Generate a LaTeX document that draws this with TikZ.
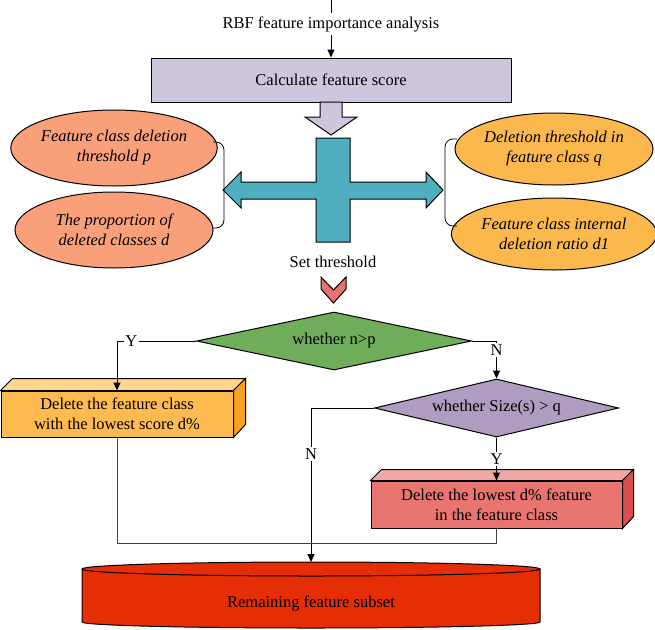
\documentclass[tikz,border=0pt]{standalone}
\usepackage{fontspec}
\setmainfont{Liberation Serif}
\usetikzlibrary{shapes.geometric,arrows.meta}
\definecolor{calcfill}{HTML}{CEC6DC}
\definecolor{crossfill}{HTML}{4FAEBF}
\definecolor{salmon}{HTML}{F9A07B}
\definecolor{gold}{HTML}{FBB84C}
\definecolor{chevfill}{HTML}{E8736E}
\definecolor{greenfill}{HTML}{70AD5B}
\definecolor{purplefill}{HTML}{AE9DC0}
\definecolor{orangefront}{HTML}{FDBA4F}
\definecolor{orangetop}{HTML}{FED68E}
\definecolor{orangeside}{HTML}{F9A21F}
\definecolor{pinkfront}{HTML}{E97571}
\definecolor{pinktop}{HTML}{F1A8A4}
\definecolor{pinkside}{HTML}{DA4F4C}
\definecolor{cylfill}{HTML}{E52E05}
\begin{document}
\begin{tikzpicture}[x=1pt,y=-1pt,line width=1pt,
    font=\fontsize{16.5}{20}\selectfont,
    >={Triangle[length=8pt,width=7pt]},
    oval/.style={ellipse,draw,inner sep=0pt,minimum width=198pt,minimum height=76pt,
      align=center,font=\fontsize{16.5}{20}\selectfont\itshape},
    decision/.style={diamond,draw,inner sep=0pt,align=center},
    box/.style={rectangle,draw,inner sep=0pt,align=center},
    lbl/.style={fill=white,inner sep=1.5pt}]
        \useasboundingbox (0,0) rectangle (655,629);
        \coordinate (input) at (331,0);
        \node (rbf) at (331,24) {RBF feature importance analysis};
        \node[box,fill=calcfill,minimum width=360pt,minimum height=44pt] (calc) at (331,80) {Calculate feature score};
        \draw (input) -- (rbf);
        \draw[->] (rbf) -- (calc);
        \draw[fill=calcfill] (320,102) -- (320,117) -- (305,117) -- (331,135) -- (357,117) -- (342,117) -- (342,102) -- cycle;
        \draw[fill=crossfill] (316,138) -- (350,138) -- (350,182) -- (426,182) -- (426,172) -- (443,190) -- (426,208) -- (426,199)
          -- (350,199) -- (350,242) -- (316,242) -- (316,199) -- (241,199) -- (241,208) -- (223,190) -- (241,172) -- (241,182) -- (316,182) -- cycle;
        \node[oval,fill=salmon] (clsdel) at (114,148) {Feature class deletion\\threshold p};
        \node[oval,fill=salmon] (propdel) at (114,230) {The proportion of\\deleted classes d};
        \node[oval,fill=gold,minimum height=72pt] (inthr) at (554,149) {Deletion threshold in\\feature class q};
        \node[oval,fill=gold,minimum height=72pt] (inratio) at (554,234) {Feature class internal\\deletion ratio d1};
        \draw[line width=0.8pt,rounded corners=8pt] (213,142) -| (224,228) -- (213,228);
        \draw[line width=0.8pt,rounded corners=8pt] (457,139) -| (445,226) -- (457,226);
        \node (setthr) at (333,262) {Set threshold};
        \draw[fill=chevfill] (321,277) -- (333.5,290) -- (346,277) -- (346,289) -- (333.5,303) -- (321,289) -- cycle;
        \node[decision,fill=greenfill,aspect=4.7,minimum width=275pt,minimum height=58pt] (gtp) at (334,341) {whether n>p};
        \node[decision,fill=purplefill,aspect=4.2,minimum width=244pt,minimum height=58pt] (sizeq) at (496.5,408) {whether Size(s) > q};
        % boxes with top and side faces
        \node[box,fill=orangefront,minimum width=232pt,minimum height=46pt] (delcls) at (117,414) {Delete the feature class\\with the lowest score d\%};
        \draw[fill=orangetop] (delcls.north west) -- ++(12,-12) -- ([xshift=12pt,yshift=12pt]delcls.north east) -- (delcls.north east) -- cycle;
        \draw[fill=orangeside] (delcls.north east) -- ++(12,-12) -- ++(0,46) -- (delcls.south east) -- cycle;
        \node[box,fill=pinkfront,minimum width=251pt,minimum height=47pt] (delfeat) at (496.5,504.5) {Delete the lowest d\% feature\\in the feature class};
        \draw[fill=pinktop] (delfeat.north west) -- ++(11,-11) -- ([xshift=11pt,yshift=11pt]delfeat.north east) -- (delfeat.north east) -- cycle;
        \draw[fill=pinkside] (delfeat.north east) -- ++(11,-11) -- ++(0,47) -- (delfeat.south east) -- cycle;
        % cylinder
        \draw[fill=cylfill] (82,569) -- (82,622) arc[start angle=180,end angle=360,x radius=229pt,y radius=6pt]
          -- (540,569) arc[start angle=0,end angle=180,x radius=229pt,y radius=7pt] -- cycle;
        \draw (82,569) arc[start angle=180,end angle=360,x radius=229pt,y radius=7pt];
        \coordinate (subsettop) at (311,562);
        \node (subset) at (311,603) {Remaining feature subset};
        \draw[->] (gtp.west) -| node[lbl,pos=0.41] {Y} (delcls.north);
        \draw[->] (gtp.east) -| node[lbl,pos=0.62] {N} (sizeq.north);
        \draw[->] (sizeq.west) -| node[lbl,pos=0.65] {N} (subsettop);
        \draw[->] (sizeq.south) -- node[lbl] {Y} (delfeat.north);
        \coordinate (merge) at (496.5,543);
        \draw[black!75] (delcls.south) |- (merge) -- (delfeat.south);
\end{tikzpicture}
\end{document}
